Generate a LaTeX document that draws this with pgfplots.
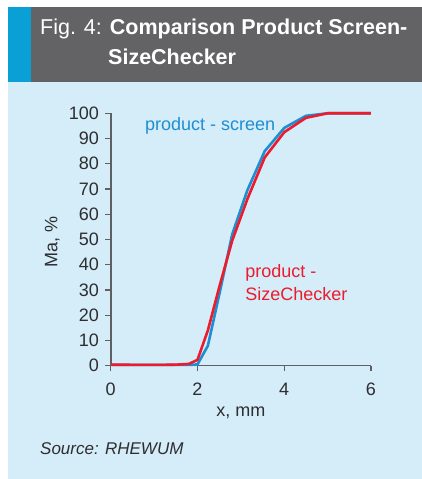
\documentclass[border=0pt]{standalone}
\usepackage{pgfplots}
\pgfplotsset{compat=1.18}
\usepackage{fontspec}
\setmainfont{Liberation Sans}
\definecolor{bgblue}{HTML}{D5ECF9}
\definecolor{hdrgray}{HTML}{636366}
\definecolor{strip}{HTML}{0AA0D6}
\definecolor{cblue}{HTML}{1C8FD3}
\definecolor{cred}{HTML}{EC1C2C}
\definecolor{txt}{HTML}{2E2E30}
\definecolor{axgray}{HTML}{5E6064}
\begin{document}
\begin{tikzpicture}[x=1pt,y=1pt]
\fill[white] (0,0) rectangle (422,479);
\fill[bgblue] (8,0) rectangle (422,397);
\fill[hdrgray] (8,397) rectangle (422,472);
\fill[strip] (8,397) rectangle (31,472);
\node[anchor=base west, inner sep=0, text=white, font=\fontsize{21.5}{24}\selectfont] at (40,444) {Fig. 4: \textbf{Comparison Product Screen-}};
\node[anchor=base west, inner sep=0, text=white, font=\fontsize{21.5}{24}\selectfont\bfseries] at (108,414) {SizeChecker};
\begin{axis}[
  at={(110.7pt,113.3pt)}, anchor=origin,
  scale only axis, width=260.3pt, height=252.4pt,
  xmin=0, xmax=6, ymin=0, ymax=100,
  axis lines=left,
  axis line style={-, draw=axgray, line width=1.6pt},
  every tick/.style={draw=axgray, line width=1.3pt},
  tick align=outside, major tick length=5.5pt,
  xtick={0,2,4,6}, ytick={0,10,...,100},
  tick label style={text=txt, font=\fontsize{18}{20}\selectfont},
  xticklabel style={anchor=north, inner sep=0pt, yshift=-11.8pt},
  yticklabel style={anchor=east, inner sep=0pt, xshift=-6.2pt},
  /pgf/number format/assume math mode=true,
  clip=false,
]
\addplot[cblue, line width=2.6pt] coordinates {
(0,0.3) (1,0.3) (1.8,0.3) (2.0,0.5) (2.24,7.9) (2.5,28) (2.8,52) (3.15,69.5) (3.55,85) (4.0,94.2) (4.5,99) (5.0,100) (6.0,100)};
\addplot[cred, line width=2.6pt] coordinates {
(0,0.4) (1,0.3) (1.5,0.4) (1.8,0.7) (2.0,2.3) (2.24,14) (2.5,31) (2.8,49.5) (3.15,66) (3.55,82.5) (4.0,92.5) (4.5,98.2) (5.0,100) (6.0,100)};
\node[anchor=base west, inner sep=0, text=cblue, font=\fontsize{18}{20}\selectfont] at (axis cs:0.79,93) {product - screen};
\node[anchor=base west, inner sep=0, text=cred, font=\fontsize{18}{20}\selectfont] at (axis cs:3.1,35.1) {product -};
\node[anchor=base west, inner sep=0, text=cred, font=\fontsize{18}{20}\selectfont] at (axis cs:3.1,25.8) {SizeChecker};
\end{axis}
\node[rotate=90, anchor=base, inner sep=0, text=txt, font=\fontsize{18}{20}\selectfont] at (57.5,237) {Ma, \%};
\node[anchor=base, inner sep=0, text=txt, font=\fontsize{18}{20}\selectfont] at (240.8,62) {x, mm};
\node[anchor=base west, inner sep=0, text=txt, font=\fontsize{17}{20}\selectfont\itshape] at (40,24) {Source: RHEWUM};
\end{tikzpicture}
\end{document}
